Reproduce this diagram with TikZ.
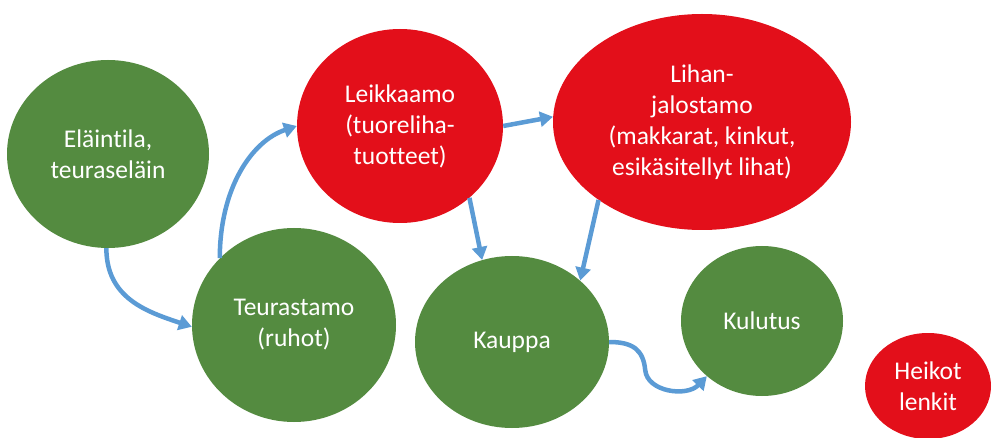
\documentclass[tikz,border=0pt]{standalone}
\usepackage{fontspec}
\setmainfont{Carlito}[Ligatures={NoCommon}]
\usetikzlibrary{shapes.geometric,arrows.meta}
\definecolor{leafgreen}{RGB}{84,139,64}
\definecolor{alarmred}{RGB}{227,15,26}
\definecolor{flowblue}{RGB}{91,155,213}
\tikzset{
  blob/.style={ellipse, inner sep=0pt, text=white, align=center,
    font=\fontsize{25.5}{31}\selectfont},
  okstage/.style={blob, fill=leafgreen},
  weakstage/.style={blob, fill=alarmred},
  flow/.style={draw=flowblue, line width=4.5pt,
    -{Triangle[length=13pt,width=15pt]}}
}
\begin{document}
\begin{tikzpicture}[x=1pt,y=-1pt]
\useasboundingbox (0,0) rectangle (993,438);
% stages of the meat chain
\node[okstage, minimum width=202pt, minimum height=188pt] (ela) at (108,154) {Eläintila,\\teuraseläin};
\node[okstage, minimum width=204pt, minimum height=194pt] (teu) at (294,325) {Teurastamo\\(ruhot)};
\node[weakstage, minimum width=206pt, minimum height=194pt] (lei) at (400,126) {Leikkaamo\\(tuoreliha-\\tuotteet)};
\node[weakstage, minimum width=298pt, minimum height=216pt] (lih) at (702,122) {Lihan-\\jalostamo\\(makkarat, kinkut,\\esikäsitellyt lihat)};
\node[okstage, minimum width=194pt, minimum height=172pt] (kau) at (512,342) {Kauppa};
\node[okstage, minimum width=162pt, minimum height=150pt] (kul) at (762,321) {Kulutus};
\node[weakstage, minimum width=126pt, minimum height=106pt] (hei) at (928,386) {Heikot\\lenkit};
% flows between the stages
\draw[flow] (ela.-91) .. controls +(0,50) and +(-45,-15) .. (teu.181);
\draw[flow] (teu.138) .. controls +(0,-70) and +(-45,15) .. (lei.west);
\draw[flow] (lei.east) -- (lih.178);
\draw[flow] (lei.-46) -- (kau.110);
\draw[flow] (lih.-143) -- (kau.42);
\draw[flow] (kau.east) .. controls +(24,0) and +(-2,-20) .. ++(36,28)
  .. controls +(2,22) and +(-20,21) .. (kul.-135);
\end{tikzpicture}
\end{document}
